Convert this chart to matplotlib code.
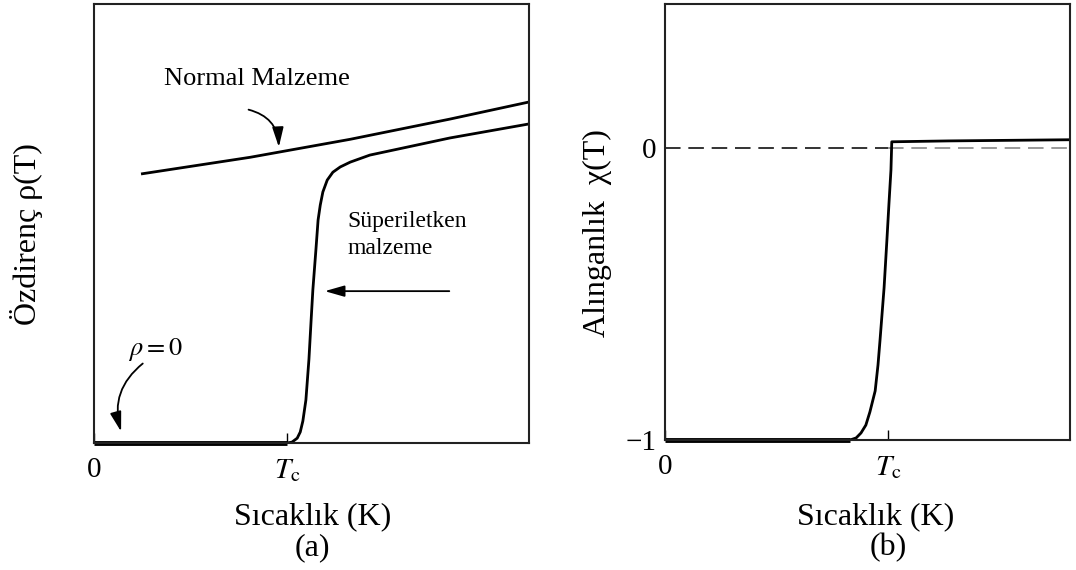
import matplotlib
matplotlib.use("Agg")
import matplotlib.pyplot as plt
from matplotlib.patches import FancyArrowPatch

plt.rcParams['font.family'] = ['Liberation Serif', 'DejaVu Serif']
plt.rcParams['mathtext.fontset'] = 'stix'

# temperature axis runs 0..10 in both panels
tc_rho = 4.44
tc_chi = 5.51

# (a) resistivity curves
normal_T = [1.08, 3.59, 5.89, 8.18, 10.0]
normal_rho = [0.613, 0.651, 0.692, 0.738, 0.777]

sc_T = [0.0, 4.44, 4.55, 4.67, 4.74, 4.80, 4.87, 4.94, 4.99, 5.03, 5.10, 5.15,
        5.20, 5.26, 5.36, 5.49, 5.66, 5.89, 6.34, 8.18, 10.0]
sc_rho = [0.0, 0.0, 0.002, 0.011, 0.025, 0.050, 0.098, 0.191, 0.280, 0.349, 0.440, 0.508,
          0.542, 0.572, 0.599, 0.617, 0.629, 0.640, 0.656, 0.695, 0.727]

# (b) susceptibility curve
chi_T = [0.0, 4.57, 4.72, 4.84, 4.96, 5.06, 5.19, 5.26, 5.31, 5.41, 5.48, 5.53, 5.58, 5.60, 7.0, 10.0]
chi_val = [-1.0, -1.0, -0.993, -0.976, -0.949, -0.904, -0.832, -0.743, -0.658, -0.479,
           -0.315, -0.192, -0.075, 0.021, 0.024, 0.028]

fig = plt.figure(figsize=(10.76, 5.70), dpi=100)
ax1 = fig.add_axes([0.0874, 0.2228, 0.4043, 0.770])
ax2 = fig.add_axes([0.618, 0.2281, 0.3764, 0.765])

for ax in (ax1, ax2):
    for s in ax.spines.values():
        s.set_linewidth(1.5)
        s.set_color('#222222')
    ax.set_xlim(0, 10)

# ---- panel (a)
ax1.set_ylim(0, 1)
ax1.plot(normal_T, normal_rho, color='black', lw=2.0, solid_capstyle='butt')
ax1.plot(sc_T[1:], sc_rho[1:], color='black', lw=2.0)
ax1.plot(sc_T[:2], sc_rho[:2], color='black', lw=3.5, solid_capstyle='butt', clip_on=False)

ax1.set_xticks([0, tc_rho])
ax1.set_xticklabels(['0', '$T_{\\mathrm{c}}$'])
ax1.set_yticks([])
ax1.tick_params(axis='x', direction='in', length=7, width=1.0, pad=10, labelsize=21)

ax1.set_xlabel('Sıcaklık (K)', fontsize=23)
ax1.xaxis.set_label_coords(0.503, -0.136)
ax1.set_ylabel('Özdirenç ρ(T)', fontsize=23)
ax1.yaxis.set_label_coords(-0.117, 0.475)

ax1.text(1.61, 0.829, 'Normal Malzeme', fontsize=19, va='center', ha='left')
ax1.text(5.82, 0.474, 'Süperiletken\nmalzeme', fontsize=17, va='center', ha='left', linespacing=1.4)
ax1.text(0.78, 0.214, '$\\rho = 0$', fontsize=19, va='center', ha='left')

arrow_kw = dict(arrowstyle='-|>,head_length=0.7,head_width=0.2', mutation_scale=17,
                color='black', lw=1.3)
ax1.add_patch(FancyArrowPatch((3.49, 0.761), (4.25, 0.668),
                              connectionstyle='arc3,rad=-0.4', **arrow_kw))
ax1.add_patch(FancyArrowPatch((8.23, 0.346), (5.24, 0.346),
                              connectionstyle='arc3,rad=0', **arrow_kw))
ax1.add_patch(FancyArrowPatch((1.17, 0.185), (0.64, 0.02),
                              connectionstyle='arc3,rad=0.35', **arrow_kw))

# ---- panel (b)
ax2.set_ylim(-1, 0.493)
ax2.plot([0, tc_chi], [0, 0], color='#333333', lw=1.4, linestyle=(0, (8, 4)))
ax2.plot([tc_chi, 10], [0, 0], color='#999999', lw=1.4, linestyle=(0, (8, 4)))
ax2.plot(chi_T[1:], chi_val[1:], color='black', lw=2.0)
ax2.plot(chi_T[:2], chi_val[:2], color='black', lw=3.5, solid_capstyle='butt', clip_on=False)

ax2.set_xticks([0, tc_chi])
ax2.set_xticklabels(['0', '$T_{\\mathrm{c}}$'])
ax2.set_yticks([-1, 0])
ax2.set_yticklabels(['−1', '0'])
ax2.tick_params(axis='x', direction='in', length=7, width=1.0, pad=10, labelsize=21)
ax2.tick_params(axis='y', length=0, pad=6, labelsize=21)

ax2.set_xlabel('Sıcaklık (K)', fontsize=23)
ax2.xaxis.set_label_coords(0.521, -0.143)
ax2.set_ylabel('Alınganlık  χ(T)', fontsize=23)
ax2.yaxis.set_label_coords(-0.131, 0.475)

fig.text(312 / 1076, 1 - 548 / 570, '(a)', fontsize=23, ha='center', va='center')
fig.text(888 / 1076, 1 - 548 / 570, '(b)', fontsize=23, ha='center', va='center')

fig.savefig('out.png', dpi=100)
